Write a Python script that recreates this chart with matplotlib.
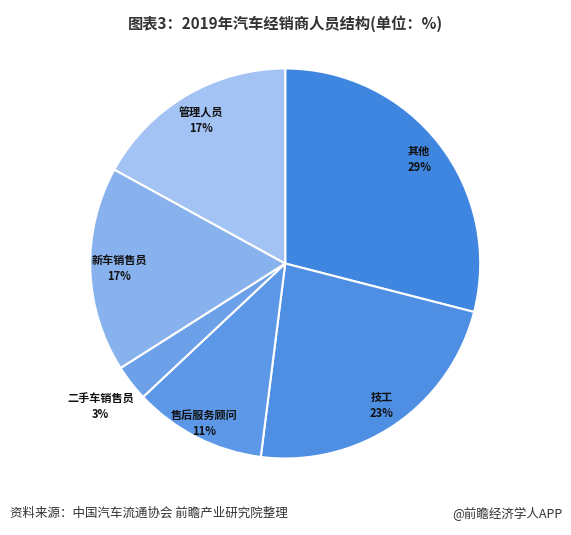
import numpy as np
import matplotlib.pyplot as plt

plt.rcParams['font.family'] = ['Noto Sans CJK SC', 'DejaVu Sans']

labels = ['其他', '技工', '售后服务顾问', '二手车销售员', '新车销售员', '管理人员']
values = [29, 23, 11, 3, 17, 17]
colors = ['#3f86e0', '#4e8fe4', '#5d98e8', '#6ca1ea', '#88b2ee', '#a2c3f3']
label_r = [0.87, 0.88, 0.92, 1.2, 0.85, 0.85]

fig = plt.figure(figsize=(5.71, 5.35), dpi=100)
fig.text(0.5, 0.955, '图表3：2019年汽车经销商人员结构(单位：%)', ha='center', va='center',
         fontsize=11, fontweight='bold', color='#333333')

ax = fig.add_axes([0.158, 0.143, 0.683, 0.729])
wedges, _ = ax.pie(values, colors=colors, startangle=90, counterclock=False,
                   wedgeprops=dict(edgecolor='white', linewidth=1.5))
ax.set_xlim(-1, 1)
ax.set_ylim(-1, 1)
ax.set_aspect('equal')
for w, lab, v, r in zip(wedges, labels, values, label_r):
    a = np.deg2rad((w.theta1 + w.theta2) / 2)
    ax.text(r * np.cos(a), r * np.sin(a), f'{lab}\n{v}%', ha='center', va='center',
            fontsize=8, fontweight='bold', color='#111111', linespacing=1.3)

fig.text(0.018, 0.04, '资料来源：中国汽车流通协会 前瞻产业研究院整理', ha='left', va='center',
         fontsize=9, color='#333333')
fig.text(0.985, 0.04, '@前瞻经济学人APP', ha='right', va='center', fontsize=9, color='#333333')

fig.savefig('out.png', dpi=100)
